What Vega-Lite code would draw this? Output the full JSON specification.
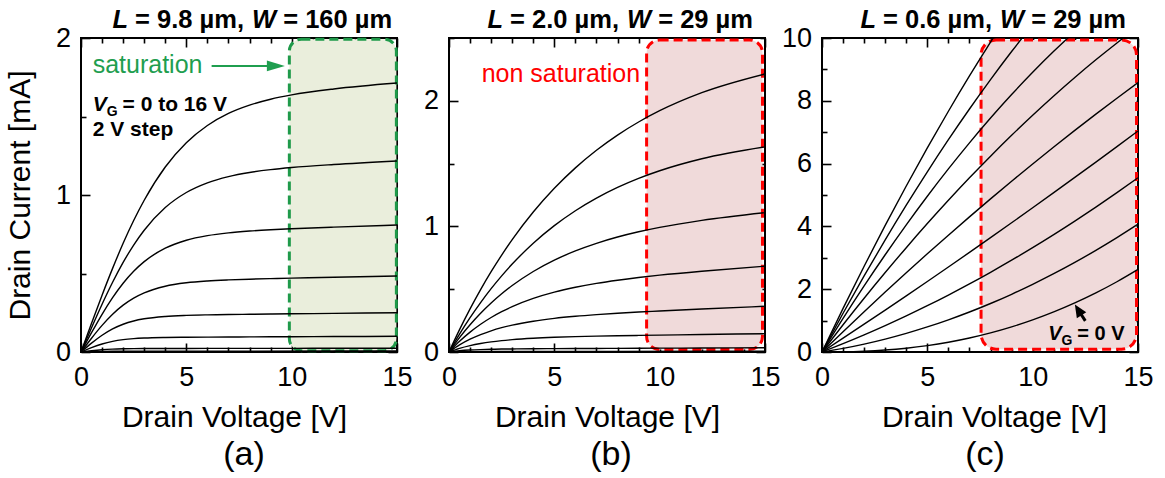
{
  "$schema": "https://vega.github.io/schema/vega-lite/v6.json",
  "background": "white",
  "padding": {"left": 4, "top": 7, "right": 0, "bottom": 0},
  "config": {
    "font": "Liberation Sans",
    "view": {"stroke": "black", "strokeWidth": 2},
    "axis": {
      "labelFont": "Liberation Sans", "labelFontSize": 27, "labelColor": "black",
      "titleFont": "Liberation Sans", "titleFontSize": 30, "titleFontWeight": "normal", "titleColor": "black",
      "tickColor": "black", "tickWidth": 1.6, "domain": false, "grid": false,
      "labelFlush": false, "labelOverlap": false, "zindex": 1
    },
    "title": {"font": "Liberation Sans", "fontSize": 34, "fontWeight": "normal", "color": "black"},
    "text": {"font": "Liberation Sans"}
  },
  "datasets": {
    "boxes": [
      {"panel": "a", "v0": 9.89, "v1": 14.97, "i0": 0.008, "i1": 1.992},
      {"panel": "b", "v0": 9.38, "v1": 14.88, "i0": 0.02, "i1": 2.484},
      {"panel": "c", "v0": 7.55, "v1": 14.93, "i0": 0.09, "i1": 9.94}
    ],
    "curves": [
      {"panel":"a","vg":16,"vd":0,"id":0},{"panel":"a","vg":16,"vd":0.5,"id":0.1829},{"panel":"a","vg":16,"vd":1,"id":0.362},{"panel":"a","vg":16,"vd":1.5,"id":0.5327},{"panel":"a","vg":16,"vd":2,"id":0.6922},{"panel":"a","vg":16,"vd":2.5,"id":0.8372},{"panel":"a","vg":16,"vd":3,"id":0.9664},{"panel":"a","vg":16,"vd":4,"id":1.1782},{"panel":"a","vg":16,"vd":5,"id":1.3328},{"panel":"a","vg":16,"vd":6,"id":1.4425},{"panel":"a","vg":16,"vd":7,"id":1.5193},{"panel":"a","vg":16,"vd":8,"id":1.5721},{"panel":"a","vg":16,"vd":9,"id":1.6099},{"panel":"a","vg":16,"vd":10,"id":1.6374},{"panel":"a","vg":16,"vd":12,"id":1.6753},{"panel":"a","vg":16,"vd":15,"id":1.713},
      {"panel":"a","vg":14,"vd":0,"id":0},{"panel":"a","vg":14,"vd":0.5,"id":0.1546},{"panel":"a","vg":14,"vd":1,"id":0.3044},{"panel":"a","vg":14,"vd":1.5,"id":0.4442},{"panel":"a","vg":14,"vd":2,"id":0.5706},{"panel":"a","vg":14,"vd":2.5,"id":0.6814},{"panel":"a","vg":14,"vd":3,"id":0.7758},{"panel":"a","vg":14,"vd":4,"id":0.9202},{"panel":"a","vg":14,"vd":5,"id":1.0159},{"panel":"a","vg":14,"vd":6,"id":1.0776},{"panel":"a","vg":14,"vd":7,"id":1.1173},{"panel":"a","vg":14,"vd":8,"id":1.1436},{"panel":"a","vg":14,"vd":9,"id":1.1616},{"panel":"a","vg":14,"vd":10,"id":1.175},{"panel":"a","vg":14,"vd":12,"id":1.1945},{"panel":"a","vg":14,"vd":15,"id":1.217},
      {"panel":"a","vg":12,"vd":0,"id":0},{"panel":"a","vg":12,"vd":0.5,"id":0.1229},{"panel":"a","vg":12,"vd":1,"id":0.2401},{"panel":"a","vg":12,"vd":1.5,"id":0.3461},{"panel":"a","vg":12,"vd":2,"id":0.4378},{"panel":"a","vg":12,"vd":2.5,"id":0.514},{"panel":"a","vg":12,"vd":3,"id":0.5755},{"panel":"a","vg":12,"vd":4,"id":0.6614},{"panel":"a","vg":12,"vd":5,"id":0.7119},{"panel":"a","vg":12,"vd":6,"id":0.7413},{"panel":"a","vg":12,"vd":7,"id":0.7591},{"panel":"a","vg":12,"vd":8,"id":0.7705},{"panel":"a","vg":12,"vd":9,"id":0.7786},{"panel":"a","vg":12,"vd":10,"id":0.7849},{"panel":"a","vg":12,"vd":12,"id":0.7952},{"panel":"a","vg":12,"vd":15,"id":0.809},
      {"panel":"a","vg":10,"vd":0,"id":0},{"panel":"a","vg":10,"vd":0.5,"id":0.0879},{"panel":"a","vg":10,"vd":1,"id":0.1697},{"panel":"a","vg":10,"vd":1.5,"id":0.2406},{"panel":"a","vg":10,"vd":2,"id":0.2983},{"panel":"a","vg":10,"vd":2.5,"id":0.3432},{"panel":"a","vg":10,"vd":3,"id":0.3768},{"panel":"a","vg":10,"vd":4,"id":0.4191},{"panel":"a","vg":10,"vd":5,"id":0.4409},{"panel":"a","vg":10,"vd":6,"id":0.4525},{"panel":"a","vg":10,"vd":7,"id":0.4592},{"panel":"a","vg":10,"vd":8,"id":0.4638},{"panel":"a","vg":10,"vd":9,"id":0.4673},{"panel":"a","vg":10,"vd":10,"id":0.4703},{"panel":"a","vg":10,"vd":12,"id":0.476},{"panel":"a","vg":10,"vd":15,"id":0.484},
      {"panel":"a","vg":8,"vd":0,"id":0},{"panel":"a","vg":8,"vd":0.5,"id":0.0564},{"panel":"a","vg":8,"vd":1,"id":0.1066},{"panel":"a","vg":8,"vd":1.5,"id":0.147},{"panel":"a","vg":8,"vd":2,"id":0.1768},{"panel":"a","vg":8,"vd":2.5,"id":0.1975},{"panel":"a","vg":8,"vd":3,"id":0.2114},{"panel":"a","vg":8,"vd":4,"id":0.2264},{"panel":"a","vg":8,"vd":5,"id":0.2331},{"panel":"a","vg":8,"vd":6,"id":0.2365},{"panel":"a","vg":8,"vd":7,"id":0.2386},{"panel":"a","vg":8,"vd":8,"id":0.2402},{"panel":"a","vg":8,"vd":9,"id":0.2418},{"panel":"a","vg":8,"vd":10,"id":0.2432},{"panel":"a","vg":8,"vd":12,"id":0.2459},{"panel":"a","vg":8,"vd":15,"id":0.25},
      {"panel":"a","vg":6,"vd":0,"id":0},{"panel":"a","vg":6,"vd":0.5,"id":0.0279},{"panel":"a","vg":6,"vd":1,"id":0.0512},{"panel":"a","vg":6,"vd":1.5,"id":0.068},{"panel":"a","vg":6,"vd":2,"id":0.0788},{"panel":"a","vg":6,"vd":2.5,"id":0.0853},{"panel":"a","vg":6,"vd":3,"id":0.0891},{"panel":"a","vg":6,"vd":4,"id":0.0927},{"panel":"a","vg":6,"vd":5,"id":0.0941},{"panel":"a","vg":6,"vd":6,"id":0.095},{"panel":"a","vg":6,"vd":7,"id":0.0956},{"panel":"a","vg":6,"vd":8,"id":0.0961},{"panel":"a","vg":6,"vd":9,"id":0.0967},{"panel":"a","vg":6,"vd":10,"id":0.0972},{"panel":"a","vg":6,"vd":12,"id":0.0983},{"panel":"a","vg":6,"vd":15,"id":0.1},
      {"panel":"a","vg":4,"vd":0,"id":0},{"panel":"a","vg":4,"vd":0.5,"id":0.0081},{"panel":"a","vg":4,"vd":1,"id":0.0143},{"panel":"a","vg":4,"vd":1.5,"id":0.0182},{"panel":"a","vg":4,"vd":2,"id":0.0203},{"panel":"a","vg":4,"vd":2.5,"id":0.0214},{"panel":"a","vg":4,"vd":3,"id":0.022},{"panel":"a","vg":4,"vd":4,"id":0.0225},{"panel":"a","vg":4,"vd":5,"id":0.0227},{"panel":"a","vg":4,"vd":6,"id":0.0228},{"panel":"a","vg":4,"vd":7,"id":0.0229},{"panel":"a","vg":4,"vd":8,"id":0.0231},{"panel":"a","vg":4,"vd":9,"id":0.0232},{"panel":"a","vg":4,"vd":10,"id":0.0233},{"panel":"a","vg":4,"vd":12,"id":0.0236},{"panel":"a","vg":4,"vd":15,"id":0.024},
      {"panel":"a","vg":2,"vd":0,"id":0},{"panel":"a","vg":2,"vd":0.5,"id":0.0025},{"panel":"a","vg":2,"vd":1,"id":0.0042},{"panel":"a","vg":2,"vd":1.5,"id":0.005},{"panel":"a","vg":2,"vd":2,"id":0.0053},{"panel":"a","vg":2,"vd":3,"id":0.0055},{"panel":"a","vg":2,"vd":5,"id":0.0056},{"panel":"a","vg":2,"vd":8,"id":0.0058},{"panel":"a","vg":2,"vd":12,"id":0.0059},{"panel":"a","vg":2,"vd":15,"id":0.006},
      {"panel":"a","vg":0,"vd":0,"id":0},{"panel":"a","vg":0,"vd":0.5,"id":0.0005},{"panel":"a","vg":0,"vd":1,"id":0.0008},{"panel":"a","vg":0,"vd":2,"id":0.001},{"panel":"a","vg":0,"vd":5,"id":0.001},{"panel":"a","vg":0,"vd":10,"id":0.0011},{"panel":"a","vg":0,"vd":15,"id":0.0012},

      {"panel":"b","vg":16,"vd":0,"id":0},{"panel":"b","vg":16,"vd":0.5,"id":0.1782},{"panel":"b","vg":16,"vd":1,"id":0.3435},{"panel":"b","vg":16,"vd":1.5,"id":0.4971},{"panel":"b","vg":16,"vd":2,"id":0.6396},{"panel":"b","vg":16,"vd":2.5,"id":0.7716},{"panel":"b","vg":16,"vd":3,"id":0.8946},{"panel":"b","vg":16,"vd":4,"id":1.1141},{"panel":"b","vg":16,"vd":5,"id":1.3032},{"panel":"b","vg":16,"vd":6,"id":1.466},{"panel":"b","vg":16,"vd":7,"id":1.6062},{"panel":"b","vg":16,"vd":8,"id":1.7272},{"panel":"b","vg":16,"vd":9,"id":1.8312},{"panel":"b","vg":16,"vd":10,"id":1.9209},{"panel":"b","vg":16,"vd":12,"id":2.0647},{"panel":"b","vg":16,"vd":15,"id":2.2138},
      {"panel":"b","vg":14,"vd":0,"id":0},{"panel":"b","vg":14,"vd":0.5,"id":0.1423},{"panel":"b","vg":14,"vd":1,"id":0.2731},{"panel":"b","vg":14,"vd":1.5,"id":0.3935},{"panel":"b","vg":14,"vd":2,"id":0.5043},{"panel":"b","vg":14,"vd":2.5,"id":0.6063},{"panel":"b","vg":14,"vd":3,"id":0.7},{"panel":"b","vg":14,"vd":4,"id":0.8657},{"panel":"b","vg":14,"vd":5,"id":1.0058},{"panel":"b","vg":14,"vd":6,"id":1.1245},{"panel":"b","vg":14,"vd":7,"id":1.225},{"panel":"b","vg":14,"vd":8,"id":1.3101},{"panel":"b","vg":14,"vd":9,"id":1.3821},{"panel":"b","vg":14,"vd":10,"id":1.4429},{"panel":"b","vg":14,"vd":12,"id":1.5383},{"panel":"b","vg":14,"vd":15,"id":1.6329},
      {"panel":"b","vg":12,"vd":0,"id":0},{"panel":"b","vg":12,"vd":0.5,"id":0.1145},{"panel":"b","vg":12,"vd":1,"id":0.2169},{"panel":"b","vg":12,"vd":1.5,"id":0.3083},{"panel":"b","vg":12,"vd":2,"id":0.39},{"panel":"b","vg":12,"vd":2.5,"id":0.4633},{"panel":"b","vg":12,"vd":3,"id":0.529},{"panel":"b","vg":12,"vd":4,"id":0.6409},{"panel":"b","vg":12,"vd":5,"id":0.7313},{"panel":"b","vg":12,"vd":6,"id":0.8049},{"panel":"b","vg":12,"vd":7,"id":0.8653},{"panel":"b","vg":12,"vd":8,"id":0.9153},{"panel":"b","vg":12,"vd":9,"id":0.957},{"panel":"b","vg":12,"vd":10,"id":0.9922},{"panel":"b","vg":12,"vd":12,"id":1.0483},{"panel":"b","vg":12,"vd":15,"id":1.1101},
      {"panel":"b","vg":10,"vd":0,"id":0},{"panel":"b","vg":10,"vd":0.5,"id":0.0851},{"panel":"b","vg":10,"vd":1,"id":0.158},{"panel":"b","vg":10,"vd":1.5,"id":0.2207},{"panel":"b","vg":10,"vd":2,"id":0.2745},{"panel":"b","vg":10,"vd":2.5,"id":0.3209},{"panel":"b","vg":10,"vd":3,"id":0.3611},{"panel":"b","vg":10,"vd":4,"id":0.4264},{"panel":"b","vg":10,"vd":5,"id":0.4763},{"panel":"b","vg":10,"vd":6,"id":0.5152},{"panel":"b","vg":10,"vd":7,"id":0.5464},{"panel":"b","vg":10,"vd":8,"id":0.5718},{"panel":"b","vg":10,"vd":9,"id":0.5933},{"panel":"b","vg":10,"vd":10,"id":0.6118},{"panel":"b","vg":10,"vd":12,"id":0.6433},{"panel":"b","vg":10,"vd":15,"id":0.683},
      {"panel":"b","vg":8,"vd":0,"id":0},{"panel":"b","vg":8,"vd":0.5,"id":0.0562},{"panel":"b","vg":8,"vd":1,"id":0.1017},{"panel":"b","vg":8,"vd":1.5,"id":0.1386},{"panel":"b","vg":8,"vd":2,"id":0.1688},{"panel":"b","vg":8,"vd":2.5,"id":0.1935},{"panel":"b","vg":8,"vd":3,"id":0.2139},{"panel":"b","vg":8,"vd":4,"id":0.2451},{"panel":"b","vg":8,"vd":5,"id":0.2675},{"panel":"b","vg":8,"vd":6,"id":0.2842},{"panel":"b","vg":8,"vd":7,"id":0.2974},{"panel":"b","vg":8,"vd":8,"id":0.3084},{"panel":"b","vg":8,"vd":9,"id":0.3179},{"panel":"b","vg":8,"vd":10,"id":0.3266},{"panel":"b","vg":8,"vd":12,"id":0.3422},{"panel":"b","vg":8,"vd":15,"id":0.364},
      {"panel":"b","vg":6,"vd":0,"id":0},{"panel":"b","vg":6,"vd":0.5,"id":0.0285},{"panel":"b","vg":6,"vd":1,"id":0.0504},{"panel":"b","vg":6,"vd":1.5,"id":0.0672},{"panel":"b","vg":6,"vd":2,"id":0.0803},{"panel":"b","vg":6,"vd":2.5,"id":0.0904},{"panel":"b","vg":6,"vd":3,"id":0.0983},{"panel":"b","vg":6,"vd":4,"id":0.1096},{"panel":"b","vg":6,"vd":5,"id":0.1171},{"panel":"b","vg":6,"vd":6,"id":0.1222},{"panel":"b","vg":6,"vd":7,"id":0.1261},{"panel":"b","vg":6,"vd":8,"id":0.1293},{"panel":"b","vg":6,"vd":9,"id":0.132},{"panel":"b","vg":6,"vd":10,"id":0.1346},{"panel":"b","vg":6,"vd":12,"id":0.1393},{"panel":"b","vg":6,"vd":15,"id":0.146},
      {"panel":"b","vg":4,"vd":0,"id":0},{"panel":"b","vg":4,"vd":0.5,"id":0.0096},{"panel":"b","vg":4,"vd":1,"id":0.0156},{"panel":"b","vg":4,"vd":1.5,"id":0.0193},{"panel":"b","vg":4,"vd":2,"id":0.0217},{"panel":"b","vg":4,"vd":2.5,"id":0.0233},{"panel":"b","vg":4,"vd":3,"id":0.0244},{"panel":"b","vg":4,"vd":4,"id":0.0259},{"panel":"b","vg":4,"vd":5,"id":0.0268},{"panel":"b","vg":4,"vd":6,"id":0.0277},{"panel":"b","vg":4,"vd":7,"id":0.0284},{"panel":"b","vg":4,"vd":8,"id":0.0291},{"panel":"b","vg":4,"vd":9,"id":0.0298},{"panel":"b","vg":4,"vd":10,"id":0.0305},{"panel":"b","vg":4,"vd":12,"id":0.0319},{"panel":"b","vg":4,"vd":15,"id":0.034},
      {"panel":"b","vg":2,"vd":0,"id":0},{"panel":"b","vg":2,"vd":0.5,"id":0.002},{"panel":"b","vg":2,"vd":1,"id":0.003},{"panel":"b","vg":2,"vd":2,"id":0.004},{"panel":"b","vg":2,"vd":3,"id":0.0044},{"panel":"b","vg":2,"vd":5,"id":0.005},{"panel":"b","vg":2,"vd":8,"id":0.0053},{"panel":"b","vg":2,"vd":12,"id":0.0057},{"panel":"b","vg":2,"vd":15,"id":0.006},
      {"panel":"b","vg":0,"vd":0,"id":0},{"panel":"b","vg":0,"vd":0.5,"id":0.0004},{"panel":"b","vg":0,"vd":1,"id":0.0006},{"panel":"b","vg":0,"vd":3,"id":0.0009},{"panel":"b","vg":0,"vd":8,"id":0.001},{"panel":"b","vg":0,"vd":15,"id":0.0012},

      {"panel":"c","vg":16,"vd":0,"id":0},{"panel":"c","vg":16,"vd":1,"id":1.388},{"panel":"c","vg":16,"vd":2,"id":2.732},{"panel":"c","vg":16,"vd":3,"id":4.032},{"panel":"c","vg":16,"vd":4,"id":5.288},{"panel":"c","vg":16,"vd":5,"id":6.5},{"panel":"c","vg":16,"vd":6,"id":7.668},{"panel":"c","vg":16,"vd":7,"id":8.792},{"panel":"c","vg":16,"vd":8,"id":9.872},{"panel":"c","vg":16,"vd":9,"id":10.908},{"panel":"c","vg":16,"vd":10,"id":11.9},
      {"panel":"c","vg":14,"vd":0,"id":0},{"panel":"c","vg":14,"vd":1,"id":1.2328},{"panel":"c","vg":14,"vd":2,"id":2.4232},{"panel":"c","vg":14,"vd":3,"id":3.5712},{"panel":"c","vg":14,"vd":4,"id":4.6768},{"panel":"c","vg":14,"vd":5,"id":5.74},{"panel":"c","vg":14,"vd":6,"id":6.7608},{"panel":"c","vg":14,"vd":7,"id":7.7392},{"panel":"c","vg":14,"vd":8,"id":8.6752},{"panel":"c","vg":14,"vd":9,"id":9.5688},{"panel":"c","vg":14,"vd":10,"id":10.42},{"panel":"c","vg":14,"vd":11,"id":11.2288},
      {"panel":"c","vg":12,"vd":0,"id":0},{"panel":"c","vg":12,"vd":1,"id":1.0731},{"panel":"c","vg":12,"vd":2,"id":2.1057},{"panel":"c","vg":12,"vd":3,"id":3.0978},{"panel":"c","vg":12,"vd":4,"id":4.0493},{"panel":"c","vg":12,"vd":5,"id":4.9603},{"panel":"c","vg":12,"vd":6,"id":5.8307},{"panel":"c","vg":12,"vd":7,"id":6.6606},{"panel":"c","vg":12,"vd":8,"id":7.4499},{"panel":"c","vg":12,"vd":9,"id":8.1987},{"panel":"c","vg":12,"vd":10,"id":8.907},{"panel":"c","vg":12,"vd":11,"id":9.5747},{"panel":"c","vg":12,"vd":12,"id":10.2019},{"panel":"c","vg":12,"vd":13,"id":10.7886},
      {"panel":"c","vg":10,"vd":0,"id":0},{"panel":"c","vg":10,"vd":1,"id":0.8689},{"panel":"c","vg":10,"vd":2,"id":1.7124},{"panel":"c","vg":10,"vd":3,"id":2.5303},{"panel":"c","vg":10,"vd":4,"id":3.3226},{"panel":"c","vg":10,"vd":5,"id":4.0895},{"panel":"c","vg":10,"vd":6,"id":4.8308},{"panel":"c","vg":10,"vd":7,"id":5.5467},{"panel":"c","vg":10,"vd":8,"id":6.237},{"panel":"c","vg":10,"vd":9,"id":6.9017},{"panel":"c","vg":10,"vd":10,"id":7.541},{"panel":"c","vg":10,"vd":11,"id":8.1547},{"panel":"c","vg":10,"vd":12,"id":8.743},{"panel":"c","vg":10,"vd":13,"id":9.3057},{"panel":"c","vg":10,"vd":14,"id":9.8428},{"panel":"c","vg":10,"vd":15,"id":10.3545},
      {"panel":"c","vg":8,"vd":0,"id":0},{"panel":"c","vg":8,"vd":1,"id":0.647},{"panel":"c","vg":8,"vd":2,"id":1.2833},{"panel":"c","vg":8,"vd":3,"id":1.9089},{"panel":"c","vg":8,"vd":4,"id":2.5238},{"panel":"c","vg":8,"vd":5,"id":3.1279},{"panel":"c","vg":8,"vd":6,"id":3.7213},{"panel":"c","vg":8,"vd":7,"id":4.3041},{"panel":"c","vg":8,"vd":8,"id":4.8761},{"panel":"c","vg":8,"vd":9,"id":5.4373},{"panel":"c","vg":8,"vd":10,"id":5.9879},{"panel":"c","vg":8,"vd":11,"id":6.5278},{"panel":"c","vg":8,"vd":12,"id":7.0569},{"panel":"c","vg":8,"vd":13,"id":7.5753},{"panel":"c","vg":8,"vd":14,"id":8.083},{"panel":"c","vg":8,"vd":15,"id":8.58},
      {"panel":"c","vg":6,"vd":0,"id":0},{"panel":"c","vg":6,"vd":1,"id":0.4411},{"panel":"c","vg":6,"vd":2,"id":0.8862},{"panel":"c","vg":6,"vd":3,"id":1.3354},{"panel":"c","vg":6,"vd":4,"id":1.7886},{"panel":"c","vg":6,"vd":5,"id":2.2458},{"panel":"c","vg":6,"vd":6,"id":2.707},{"panel":"c","vg":6,"vd":7,"id":3.1723},{"panel":"c","vg":6,"vd":8,"id":3.6417},{"panel":"c","vg":6,"vd":9,"id":4.115},{"panel":"c","vg":6,"vd":10,"id":4.5924},{"panel":"c","vg":6,"vd":11,"id":5.0738},{"panel":"c","vg":6,"vd":12,"id":5.5593},{"panel":"c","vg":6,"vd":13,"id":6.0488},{"panel":"c","vg":6,"vd":14,"id":6.5423},{"panel":"c","vg":6,"vd":15,"id":7.0399},
      {"panel":"c","vg":4,"vd":0,"id":0},{"panel":"c","vg":4,"vd":1,"id":0.2646},{"panel":"c","vg":4,"vd":2,"id":0.5443},{"panel":"c","vg":4,"vd":3,"id":0.839},{"panel":"c","vg":4,"vd":4,"id":1.1487},{"panel":"c","vg":4,"vd":5,"id":1.4736},{"panel":"c","vg":4,"vd":6,"id":1.8135},{"panel":"c","vg":4,"vd":7,"id":2.1684},{"panel":"c","vg":4,"vd":8,"id":2.5384},{"panel":"c","vg":4,"vd":9,"id":2.9235},{"panel":"c","vg":4,"vd":10,"id":3.3236},{"panel":"c","vg":4,"vd":11,"id":3.7388},{"panel":"c","vg":4,"vd":12,"id":4.169},{"panel":"c","vg":4,"vd":13,"id":4.6143},{"panel":"c","vg":4,"vd":14,"id":5.0747},{"panel":"c","vg":4,"vd":15,"id":5.5501},
      {"panel":"c","vg":2,"vd":0,"id":0},{"panel":"c","vg":2,"vd":1,"id":0.1149},{"panel":"c","vg":2,"vd":2,"id":0.2521},{"panel":"c","vg":2,"vd":3,"id":0.4117},{"panel":"c","vg":2,"vd":4,"id":0.5936},{"panel":"c","vg":2,"vd":5,"id":0.7979},{"panel":"c","vg":2,"vd":6,"id":1.0245},{"panel":"c","vg":2,"vd":7,"id":1.2735},{"panel":"c","vg":2,"vd":8,"id":1.5449},{"panel":"c","vg":2,"vd":9,"id":1.8386},{"panel":"c","vg":2,"vd":10,"id":2.1546},{"panel":"c","vg":2,"vd":11,"id":2.493},{"panel":"c","vg":2,"vd":12,"id":2.8537},{"panel":"c","vg":2,"vd":13,"id":3.2368},{"panel":"c","vg":2,"vd":14,"id":3.6423},{"panel":"c","vg":2,"vd":15,"id":4.0701},
      {"panel":"c","vg":0,"vd":0,"id":0},{"panel":"c","vg":0,"vd":1,"id":0.0048},{"panel":"c","vg":0,"vd":2,"id":0.024},{"panel":"c","vg":0,"vd":3,"id":0.0618},{"panel":"c","vg":0,"vd":4,"id":0.1208},{"panel":"c","vg":0,"vd":5,"id":0.2032},{"panel":"c","vg":0,"vd":6,"id":0.3107},{"panel":"c","vg":0,"vd":7,"id":0.4452},{"panel":"c","vg":0,"vd":8,"id":0.6075},{"panel":"c","vg":0,"vd":9,"id":0.7992},{"panel":"c","vg":0,"vd":10,"id":1.022},{"panel":"c","vg":0,"vd":11,"id":1.276},{"panel":"c","vg":0,"vd":12,"id":1.5626},{"panel":"c","vg":0,"vd":13,"id":1.8824},{"panel":"c","vg":0,"vd":14,"id":2.237},{"panel":"c","vg":0,"vd":15,"id":2.629}
    ]
  },
  "spacing": -3,
  "hconcat": [
    {
      "width": 316, "height": 314,
      "title": {"text": "(a)", "orient": "bottom", "frame": "group", "offset": 6, "dx": 5},
      "resolve": {"axis": {"x": "independent", "y": "independent"}},
      "layer": [
        {
          "data": {"name": "boxes"}, "transform": [{"filter": "datum.panel === 'a'"}],
          "mark": {"type": "rect", "fill": "#eaeedc", "stroke": "#1f9a4a", "strokeWidth": 3, "strokeDash": [9, 5], "cornerRadius": 12},
          "encoding": {
            "x": {"field": "v0", "type": "quantitative", "scale": {"domain": [0, 15], "nice": false},
                  "axis": {"orient": "bottom", "values": [0,1,2,3,4,5,6,7,8,9,10,11,12,13,14,15], "labelExpr": "datum.value % 5 === 0 ? datum.label : ''",
                           "tickSize": {"condition": {"test": "datum.value % 5 === 0", "value": -9}, "value": -5}, "labelPadding": 21, "title": "Drain Voltage [V]", "titlePadding": 8, "titleX": 153}},
            "x2": {"field": "v1"},
            "y": {"field": "i0", "type": "quantitative", "scale": {"domain": [0, 2], "nice": false},
                  "axis": {"orient": "left", "values": [0,0.5,1,1.5,2], "labelExpr": "datum.value % 1 === 0 ? format(datum.value, 'd') : ''",
                           "tickSize": {"condition": {"test": "datum.value % 1 === 0", "value": -9}, "value": -5}, "labelPadding": 19.5, "title": "Drain Current [mA]", "titlePadding": 20}},
            "y2": {"field": "i1"}
          }
        },
        {
          "data": {"name": "curves"}, "transform": [{"filter": "datum.panel === 'a'"}],
          "mark": {"type": "line", "color": "black", "strokeWidth": 1.4, "interpolate": "monotone", "clip": true},
          "encoding": {
            "x": {"field": "vd", "type": "quantitative", "scale": {"domain": [0, 15], "nice": false},
                  "axis": {"orient": "top", "values": [0,1,2,3,4,5,6,7,8,9,10,11,12,13,14,15], "labels": false, "title": null,
                           "tickSize": {"condition": {"test": "datum.value % 5 === 0", "value": -9}, "value": -5}, "minExtent": 0, "maxExtent": 0}},
            "y": {"field": "id", "type": "quantitative", "scale": {"domain": [0, 2], "nice": false},
                  "axis": {"orient": "right", "values": [0,0.5,1,1.5,2], "labels": false, "title": null,
                           "tickSize": {"condition": {"test": "datum.value % 1 === 0", "value": -9}, "value": -5}, "minExtent": 0, "maxExtent": 0}},
            "detail": {"field": "vg", "type": "nominal"}
          }
        },
        {
          "data": {"values": [{"v": 6.2, "v2": 9.0, "i": 1.822}]},
          "mark": {"type": "rule", "color": "#1f9e4f", "strokeWidth": 2},
          "encoding": {
            "x": {"field": "v", "type": "quantitative", "scale": {"domain": [0, 15], "nice": false}, "axis": null},
            "x2": {"field": "v2"},
            "y": {"field": "i", "type": "quantitative", "scale": {"domain": [0, 2], "nice": false}, "axis": null}
          }
        },
        {
          "data": {"values": [{"v": 9.25, "i": 1.822}]},
          "mark": {"type": "point", "shape": "M-1,-0.6L1,0L-1,0.6Z", "size": 324, "filled": true, "color": "#1f9e4f", "opacity": 1},
          "encoding": {
            "x": {"field": "v", "type": "quantitative", "scale": {"domain": [0, 15], "nice": false}, "axis": null},
            "y": {"field": "i", "type": "quantitative", "scale": {"domain": [0, 2], "nice": false}, "axis": null}
          }
        },
        {
          "data": {"values": [{"v": 0.555, "i": 1.779, "t": "saturation"}]},
          "mark": {"type": "text", "align": "left", "baseline": "alphabetic", "fontSize": 25, "color": "#1f9e4f"},
          "encoding": {
            "x": {"field": "v", "type": "quantitative", "scale": {"domain": [0, 15], "nice": false}, "axis": null},
            "y": {"field": "i", "type": "quantitative", "scale": {"domain": [0, 2], "nice": false}, "axis": null},
            "text": {"field": "t"}
          }
        },
        {
          "data": {"values": [{"v": 0.555, "i": 1.535, "t": "V"}]},
          "mark": {"type": "text", "align": "left", "baseline": "alphabetic", "fontSize": 21, "fontWeight": "bold", "fontStyle": "italic", "color": "black"},
          "encoding": {
            "x": {"field": "v", "type": "quantitative", "scale": {"domain": [0, 15], "nice": false}, "axis": null},
            "y": {"field": "i", "type": "quantitative", "scale": {"domain": [0, 2], "nice": false}, "axis": null},
            "text": {"field": "t"}
          }
        },
        {
          "data": {"values": [{"v": 0.555, "i": 1.535, "t": "G"}]},
          "mark": {"type": "text", "align": "left", "baseline": "alphabetic", "fontSize": 14, "fontWeight": "bold", "dx": 14, "dy": 5, "color": "black"},
          "encoding": {
            "x": {"field": "v", "type": "quantitative", "scale": {"domain": [0, 15], "nice": false}, "axis": null},
            "y": {"field": "i", "type": "quantitative", "scale": {"domain": [0, 2], "nice": false}, "axis": null},
            "text": {"field": "t"}
          }
        },
        {
          "data": {"values": [{"v": 0.555, "i": 1.535, "t": "= 0 to 16 V"}]},
          "mark": {"type": "text", "align": "left", "baseline": "alphabetic", "fontSize": 21, "fontWeight": "bold", "dx": 29.9, "color": "black"},
          "encoding": {
            "x": {"field": "v", "type": "quantitative", "scale": {"domain": [0, 15], "nice": false}, "axis": null},
            "y": {"field": "i", "type": "quantitative", "scale": {"domain": [0, 2], "nice": false}, "axis": null},
            "text": {"field": "t"}
          }
        },
        {
          "data": {"values": [{"v": 0.555, "i": 1.376, "t": "2 V step"}]},
          "mark": {"type": "text", "align": "left", "baseline": "alphabetic", "fontSize": 21, "fontWeight": "bold", "color": "black"},
          "encoding": {
            "x": {"field": "v", "type": "quantitative", "scale": {"domain": [0, 15], "nice": false}, "axis": null},
            "y": {"field": "i", "type": "quantitative", "scale": {"domain": [0, 2], "nice": false}, "axis": null},
            "text": {"field": "t"}
          }
        },
        {
          "data": {"values": [{"v": 8.15, "i": 2, "t": "L"}]},
          "mark": {"type": "text", "align": "left", "baseline": "alphabetic", "fontSize": 25.5, "fontWeight": "bold", "fontStyle": "italic", "dx": -140.3, "dy": -10, "color": "black"},
          "encoding": {
            "x": {"field": "v", "type": "quantitative", "scale": {"domain": [0, 15], "nice": false}, "axis": null},
            "y": {"field": "i", "type": "quantitative", "scale": {"domain": [0, 2], "nice": false}, "axis": null},
            "text": {"field": "t"}
          }
        },
        {
          "data": {"values": [{"v": 8.15, "i": 2, "t": "= 9.8 µm,"}]},
          "mark": {"type": "text", "align": "left", "baseline": "alphabetic", "fontSize": 25.5, "fontWeight": "bold", "dx": -117.6, "dy": -10, "color": "black"},
          "encoding": {
            "x": {"field": "v", "type": "quantitative", "scale": {"domain": [0, 15], "nice": false}, "axis": null},
            "y": {"field": "i", "type": "quantitative", "scale": {"domain": [0, 2], "nice": false}, "axis": null},
            "text": {"field": "t"}
          }
        },
        {
          "data": {"values": [{"v": 8.15, "i": 2, "t": "W"}]},
          "mark": {"type": "text", "align": "left", "baseline": "alphabetic", "fontSize": 25.5, "fontWeight": "bold", "fontStyle": "italic", "dx": -0.7, "dy": -10, "color": "black"},
          "encoding": {
            "x": {"field": "v", "type": "quantitative", "scale": {"domain": [0, 15], "nice": false}, "axis": null},
            "y": {"field": "i", "type": "quantitative", "scale": {"domain": [0, 2], "nice": false}, "axis": null},
            "text": {"field": "t"}
          }
        },
        {
          "data": {"values": [{"v": 8.15, "i": 2, "t": "= 160 µm"}]},
          "mark": {"type": "text", "align": "left", "baseline": "alphabetic", "fontSize": 25.5, "fontWeight": "bold", "dx": 30.5, "dy": -10, "color": "black"},
          "encoding": {
            "x": {"field": "v", "type": "quantitative", "scale": {"domain": [0, 15], "nice": false}, "axis": null},
            "y": {"field": "i", "type": "quantitative", "scale": {"domain": [0, 2], "nice": false}, "axis": null},
            "text": {"field": "t"}
          }
        }
      ]
    },
    {
      "width": 316, "height": 314,
      "title": {"text": "(b)", "orient": "bottom", "frame": "group", "offset": 6, "dx": 4},
      "resolve": {"axis": {"x": "independent", "y": "independent"}},
      "layer": [
        {
          "data": {"name": "boxes"}, "transform": [{"filter": "datum.panel === 'b'"}],
          "mark": {"type": "rect", "fill": "#f0dada", "stroke": "#ff0000", "strokeWidth": 3, "strokeDash": [9, 5], "cornerRadius": 13},
          "encoding": {
            "x": {"field": "v0", "type": "quantitative", "scale": {"domain": [0, 15], "nice": false},
                  "axis": {"orient": "bottom", "values": [0,1,2,3,4,5,6,7,8,9,10,11,12,13,14,15], "labelExpr": "datum.value % 5 === 0 ? datum.label : ''",
                           "tickSize": {"condition": {"test": "datum.value % 5 === 0", "value": -9}, "value": -5}, "labelPadding": 21, "title": "Drain Voltage [V]", "titlePadding": 8}},
            "x2": {"field": "v1"},
            "y": {"field": "i0", "type": "quantitative", "scale": {"domain": [0, 2.5], "nice": false},
                  "axis": {"orient": "left", "values": [0,0.5,1,1.5,2,2.5], "labelExpr": "datum.value % 1 === 0 ? format(datum.value, 'd') : ''",
                           "tickSize": {"condition": {"test": "datum.value % 1 === 0", "value": -9}, "value": -5}, "labelPadding": 19.5, "title": null, "minExtent": 37, "maxExtent": 37}},
            "y2": {"field": "i1"}
          }
        },
        {
          "data": {"name": "curves"}, "transform": [{"filter": "datum.panel === 'b'"}],
          "mark": {"type": "line", "color": "black", "strokeWidth": 1.4, "interpolate": "monotone", "clip": true},
          "encoding": {
            "x": {"field": "vd", "type": "quantitative", "scale": {"domain": [0, 15], "nice": false},
                  "axis": {"orient": "top", "values": [0,1,2,3,4,5,6,7,8,9,10,11,12,13,14,15], "labels": false, "title": null,
                           "tickSize": {"condition": {"test": "datum.value % 5 === 0", "value": -9}, "value": -5}, "minExtent": 0, "maxExtent": 0}},
            "y": {"field": "id", "type": "quantitative", "scale": {"domain": [0, 2.5], "nice": false},
                  "axis": {"orient": "right", "values": [0,0.5,1,1.5,2,2.5], "labels": false, "title": null,
                           "tickSize": {"condition": {"test": "datum.value % 1 === 0", "value": -9}, "value": -5}, "minExtent": 0, "maxExtent": 0}},
            "detail": {"field": "vg", "type": "nominal"}
          }
        },
        {
          "data": {"values": [{"v": 1.55, "i": 2.146, "t": "non saturation"}]},
          "mark": {"type": "text", "align": "left", "baseline": "alphabetic", "fontSize": 25, "color": "#ff0000"},
          "encoding": {
            "x": {"field": "v", "type": "quantitative", "scale": {"domain": [0, 15], "nice": false}, "axis": null},
            "y": {"field": "i", "type": "quantitative", "scale": {"domain": [0, 2.5], "nice": false}, "axis": null},
            "text": {"field": "t"}
          }
        },
        {
          "data": {"values": [{"v": 8.15, "i": 2.5, "t": "L"}]},
          "mark": {"type": "text", "align": "left", "baseline": "alphabetic", "fontSize": 25.5, "fontWeight": "bold", "fontStyle": "italic", "dx": -133.2, "dy": -10, "color": "black"},
          "encoding": {
            "x": {"field": "v", "type": "quantitative", "scale": {"domain": [0, 15], "nice": false}, "axis": null},
            "y": {"field": "i", "type": "quantitative", "scale": {"domain": [0, 2.5], "nice": false}, "axis": null},
            "text": {"field": "t"}
          }
        },
        {
          "data": {"values": [{"v": 8.15, "i": 2.5, "t": "= 2.0 µm,"}]},
          "mark": {"type": "text", "align": "left", "baseline": "alphabetic", "fontSize": 25.5, "fontWeight": "bold", "dx": -110.6, "dy": -10, "color": "black"},
          "encoding": {
            "x": {"field": "v", "type": "quantitative", "scale": {"domain": [0, 15], "nice": false}, "axis": null},
            "y": {"field": "i", "type": "quantitative", "scale": {"domain": [0, 2.5], "nice": false}, "axis": null},
            "text": {"field": "t"}
          }
        },
        {
          "data": {"values": [{"v": 8.15, "i": 2.5, "t": "W"}]},
          "mark": {"type": "text", "align": "left", "baseline": "alphabetic", "fontSize": 25.5, "fontWeight": "bold", "fontStyle": "italic", "dx": 6.4, "dy": -10, "color": "black"},
          "encoding": {
            "x": {"field": "v", "type": "quantitative", "scale": {"domain": [0, 15], "nice": false}, "axis": null},
            "y": {"field": "i", "type": "quantitative", "scale": {"domain": [0, 2.5], "nice": false}, "axis": null},
            "text": {"field": "t"}
          }
        },
        {
          "data": {"values": [{"v": 8.15, "i": 2.5, "t": "= 29 µm"}]},
          "mark": {"type": "text", "align": "left", "baseline": "alphabetic", "fontSize": 25.5, "fontWeight": "bold", "dx": 37.5, "dy": -10, "color": "black"},
          "encoding": {
            "x": {"field": "v", "type": "quantitative", "scale": {"domain": [0, 15], "nice": false}, "axis": null},
            "y": {"field": "i", "type": "quantitative", "scale": {"domain": [0, 2.5], "nice": false}, "axis": null},
            "text": {"field": "t"}
          }
        }
      ]
    },
    {
      "width": 316, "height": 314,
      "title": {"text": "(c)", "orient": "bottom", "frame": "group", "offset": 6, "dx": 5},
      "resolve": {"axis": {"x": "independent", "y": "independent"}},
      "layer": [
        {
          "data": {"name": "boxes"}, "transform": [{"filter": "datum.panel === 'c'"}],
          "mark": {"type": "rect", "fill": "#f0dada", "stroke": "#ff0000", "strokeWidth": 3, "strokeDash": [9, 5], "cornerRadius": 15},
          "encoding": {
            "x": {"field": "v0", "type": "quantitative", "scale": {"domain": [0, 15], "nice": false},
                  "axis": {"orient": "bottom", "values": [0,1,2,3,4,5,6,7,8,9,10,11,12,13,14,15], "labelExpr": "datum.value % 5 === 0 ? datum.label : ''",
                           "tickSize": {"condition": {"test": "datum.value % 5 === 0", "value": -9}, "value": -5}, "labelPadding": 21, "title": "Drain Voltage [V]", "titlePadding": 8, "titleX": 172}},
            "x2": {"field": "v1"},
            "y": {"field": "i0", "type": "quantitative", "scale": {"domain": [0, 10], "nice": false},
                  "axis": {"orient": "left", "values": [0,1,2,3,4,5,6,7,8,9,10], "labelExpr": "datum.value % 2 === 0 ? datum.label : ''",
                           "tickSize": {"condition": {"test": "datum.value % 2 === 0", "value": -9}, "value": -5}, "labelPadding": 19.5, "title": null, "minExtent": 42, "maxExtent": 42}},
            "y2": {"field": "i1"}
          }
        },
        {
          "data": {"name": "curves"}, "transform": [{"filter": "datum.panel === 'c'"}],
          "mark": {"type": "line", "color": "black", "strokeWidth": 1.4, "interpolate": "monotone", "clip": true},
          "encoding": {
            "x": {"field": "vd", "type": "quantitative", "scale": {"domain": [0, 15], "nice": false},
                  "axis": {"orient": "top", "values": [0,1,2,3,4,5,6,7,8,9,10,11,12,13,14,15], "labels": false, "title": null,
                           "tickSize": {"condition": {"test": "datum.value % 5 === 0", "value": -9}, "value": -5}, "minExtent": 0, "maxExtent": 0}},
            "y": {"field": "id", "type": "quantitative", "scale": {"domain": [0, 10], "nice": false},
                  "axis": {"orient": "right", "values": [0,1,2,3,4,5,6,7,8,9,10], "labels": false, "title": null,
                           "tickSize": {"condition": {"test": "datum.value % 2 === 0", "value": -9}, "value": -5}, "minExtent": 0, "maxExtent": 0}},
            "detail": {"field": "vg", "type": "nominal"}
          }
        },
        {
          "data": {"values": [{"v": 12.21, "v2": 12.5, "i": 1.29, "i2": 0.99}]},
          "mark": {"type": "rule", "color": "black", "strokeWidth": 3},
          "encoding": {
            "x": {"field": "v", "type": "quantitative", "scale": {"domain": [0, 15], "nice": false}, "axis": null},
            "x2": {"field": "v2"},
            "y": {"field": "i", "type": "quantitative", "scale": {"domain": [0, 10], "nice": false}, "axis": null},
            "y2": {"field": "i2"}
          }
        },
        {
          "data": {"values": [{"v": 12.19, "i": 1.31}]},
          "mark": {"type": "point", "shape": "M0,-1L0.75,0.7L-0.75,0.7Z", "size": 220, "filled": true, "color": "black", "opacity": 1, "angle": 328},
          "encoding": {
            "x": {"field": "v", "type": "quantitative", "scale": {"domain": [0, 15], "nice": false}, "axis": null},
            "y": {"field": "i", "type": "quantitative", "scale": {"domain": [0, 10], "nice": false}, "axis": null}
          }
        },
        {
          "data": {"values": [{"v": 10.74, "i": 0.373, "t": "V"}]},
          "mark": {"type": "text", "align": "left", "baseline": "alphabetic", "fontSize": 20, "fontWeight": "bold", "fontStyle": "italic", "color": "black"},
          "encoding": {
            "x": {"field": "v", "type": "quantitative", "scale": {"domain": [0, 15], "nice": false}, "axis": null},
            "y": {"field": "i", "type": "quantitative", "scale": {"domain": [0, 10], "nice": false}, "axis": null},
            "text": {"field": "t"}
          }
        },
        {
          "data": {"values": [{"v": 10.74, "i": 0.373, "t": "G"}]},
          "mark": {"type": "text", "align": "left", "baseline": "alphabetic", "fontSize": 14, "fontWeight": "bold", "dx": 13.3, "dy": 5, "color": "black"},
          "encoding": {
            "x": {"field": "v", "type": "quantitative", "scale": {"domain": [0, 15], "nice": false}, "axis": null},
            "y": {"field": "i", "type": "quantitative", "scale": {"domain": [0, 10], "nice": false}, "axis": null},
            "text": {"field": "t"}
          }
        },
        {
          "data": {"values": [{"v": 10.74, "i": 0.373, "t": "= 0 V"}]},
          "mark": {"type": "text", "align": "left", "baseline": "alphabetic", "fontSize": 20, "fontWeight": "bold", "dx": 29, "color": "black"},
          "encoding": {
            "x": {"field": "v", "type": "quantitative", "scale": {"domain": [0, 15], "nice": false}, "axis": null},
            "y": {"field": "i", "type": "quantitative", "scale": {"domain": [0, 10], "nice": false}, "axis": null},
            "text": {"field": "t"}
          }
        },
        {
          "data": {"values": [{"v": 8.15, "i": 10, "t": "L"}]},
          "mark": {"type": "text", "align": "left", "baseline": "alphabetic", "fontSize": 25.5, "fontWeight": "bold", "fontStyle": "italic", "dx": -133.2, "dy": -10, "color": "black"},
          "encoding": {
            "x": {"field": "v", "type": "quantitative", "scale": {"domain": [0, 15], "nice": false}, "axis": null},
            "y": {"field": "i", "type": "quantitative", "scale": {"domain": [0, 10], "nice": false}, "axis": null},
            "text": {"field": "t"}
          }
        },
        {
          "data": {"values": [{"v": 8.15, "i": 10, "t": "= 0.6 µm,"}]},
          "mark": {"type": "text", "align": "left", "baseline": "alphabetic", "fontSize": 25.5, "fontWeight": "bold", "dx": -110.6, "dy": -10, "color": "black"},
          "encoding": {
            "x": {"field": "v", "type": "quantitative", "scale": {"domain": [0, 15], "nice": false}, "axis": null},
            "y": {"field": "i", "type": "quantitative", "scale": {"domain": [0, 10], "nice": false}, "axis": null},
            "text": {"field": "t"}
          }
        },
        {
          "data": {"values": [{"v": 8.15, "i": 10, "t": "W"}]},
          "mark": {"type": "text", "align": "left", "baseline": "alphabetic", "fontSize": 25.5, "fontWeight": "bold", "fontStyle": "italic", "dx": 6.4, "dy": -10, "color": "black"},
          "encoding": {
            "x": {"field": "v", "type": "quantitative", "scale": {"domain": [0, 15], "nice": false}, "axis": null},
            "y": {"field": "i", "type": "quantitative", "scale": {"domain": [0, 10], "nice": false}, "axis": null},
            "text": {"field": "t"}
          }
        },
        {
          "data": {"values": [{"v": 8.15, "i": 10, "t": "= 29 µm"}]},
          "mark": {"type": "text", "align": "left", "baseline": "alphabetic", "fontSize": 25.5, "fontWeight": "bold", "dx": 37.5, "dy": -10, "color": "black"},
          "encoding": {
            "x": {"field": "v", "type": "quantitative", "scale": {"domain": [0, 15], "nice": false}, "axis": null},
            "y": {"field": "i", "type": "quantitative", "scale": {"domain": [0, 10], "nice": false}, "axis": null},
            "text": {"field": "t"}
          }
        }
      ]
    }
  ]
}
